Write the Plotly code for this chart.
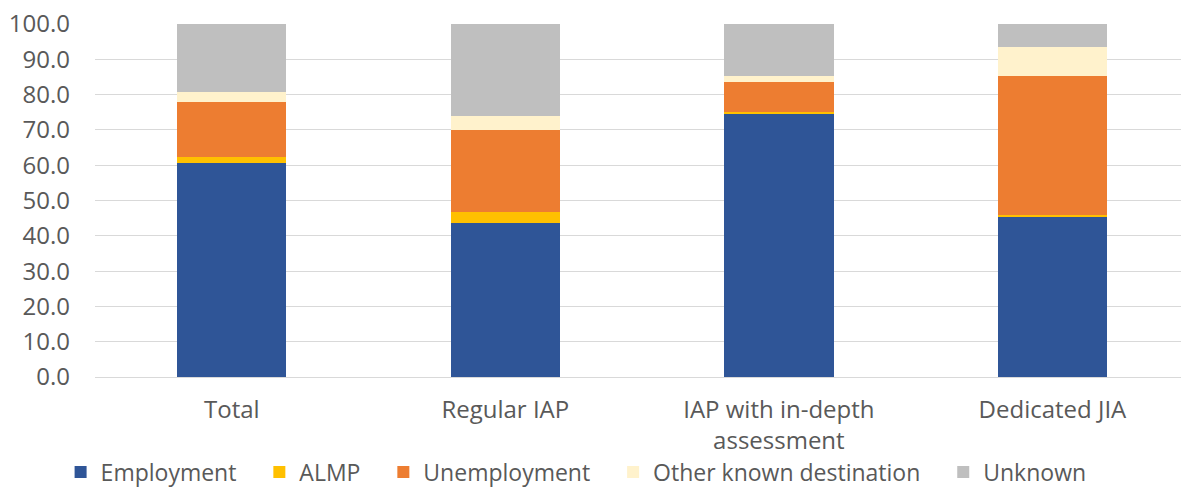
import plotly.graph_objects as go

categories = ["Total", "Regular IAP", "IAP with in-depth<br>assessment", "Dedicated JIA"]

employment = [60.6, 43.6, 74.5, 45.2]
almp = [1.6, 3.1, 0.7, 0.6]
unemployment = [15.7, 23.3, 8.3, 39.5]
other_known = [2.8, 3.8, 1.8, 8.3]
unknown = [19.3, 26.2, 14.7, 6.4]

series = [
    ("Employment", employment, "#2F5597"),
    ("ALMP", almp, "#FFC000"),
    ("Unemployment", unemployment, "#ED7D31"),
    ("Other known destination", other_known, "#FFF2CC"),
    ("Unknown", unknown, "#BFBFBF"),
]

text_color = "#595959"
font_family = "Open Sans, Liberation Sans, sans-serif"
pad = "\u00a0" * 3  # extra room between legend entries

fig = go.Figure()
for i, (name, values, color) in enumerate(series):
    label = name + (pad if i < len(series) - 1 else "")
    fig.add_trace(go.Bar(
        name=label,
        x=categories,
        y=values,
        marker=dict(color=color, line=dict(width=0)),
        width=0.4,
    ))

fig.update_layout(
    barmode="stack",
    width=1181,
    height=487,
    margin=dict(l=95, r=0, t=24, b=110, autoexpand=False),
    paper_bgcolor="white",
    plot_bgcolor="white",
    font=dict(family=font_family, size=24, color=text_color),
    xaxis=dict(
        range=[-0.5, 3.47],
        showgrid=False,
        showline=False,
        ticks="",
        ticklabelstandoff=16,
        tickfont=dict(size=24, color=text_color),
    ),
    yaxis=dict(
        range=[0, 100],
        dtick=10,
        tickformat=".1f",
        showgrid=True,
        gridcolor="#D9D9D9",
        gridwidth=1,
        zeroline=True,
        zerolinecolor="#D9D9D9",
        zerolinewidth=1,
        ticks="",
        ticklabelstandoff=24,
        tickfont=dict(size=24, color=text_color),
    ),
    legend=dict(
        orientation="h",
        x=0.443,
        xanchor="center",
        y=-0.269,
        yanchor="middle",
        font=dict(size=23, color=text_color),
        itemwidth=30,
        traceorder="normal",
    ),
)

fig.write_html("out.html")
